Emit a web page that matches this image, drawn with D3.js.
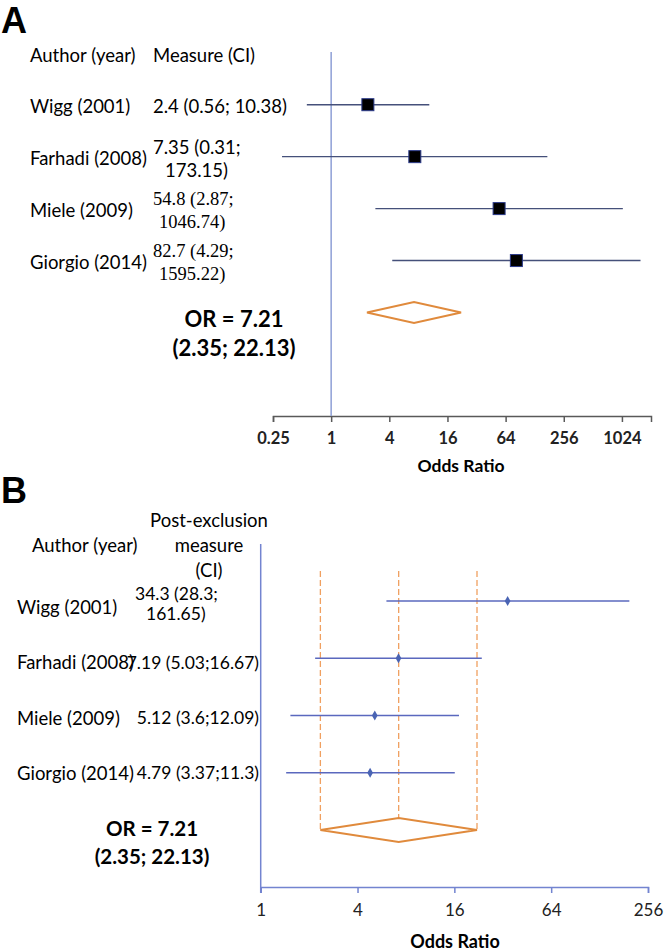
<!DOCTYPE html>
<html><head><meta charset="utf-8">
<script src="https://cdn.jsdelivr.net/npm/d3@7"></script>
<style>body{margin:0;background:#fff}svg{display:block}</style>
</head><body>
<script>
// ---------- DATA ----------
const authors = ["Wigg (2001)", "Farhadi (2008)", "Miele (2009)", "Giorgio (2014)"];
// Panel A
const aOR   = [2.4, 7.35, 54.8, 82.7];
const aLow  = [0.56, 0.31, 2.87, 4.29];
const aHigh = [10.38, 173.15, 1046.74, 1595.22];
const aText = [["2.4 (0.56; 10.38)"], ["7.35 (0.31;", "173.15)"], ["54.8 (2.87;", "1046.74)"], ["82.7 (4.29;", "1595.22)"]];
const aTicks = [0.25, 1, 4, 16, 64, 256, 1024];
// Panel B (whiskers as drawn in the figure)
const bOR   = [34.3, 7.19, 5.12, 4.79];
const bLow  = [6.05, 2.18, 1.53, 1.44];
const bHigh = [196, 23.7, 17.1, 16.1];
const bText = [["34.3 (28.3;", "161.65)"], ["7.19 (5.03;16.67)"], ["5.12 (3.6;12.09)"], ["4.79 (3.37;11.3)"]];
const bTicks = [1, 4, 16, 64, 256];
// Pooled
const pooled = {or: 7.21, low: 2.35, high: 22.13};
const pooledText = ["OR = 7.21", "(2.35; 22.13)"];

// ---------- DRAW ----------
const W = 664, H = 951;
const svg = d3.select("body").append("svg").attr("width", W).attr("height", H);
svg.append("rect").attr("width", W).attr("height", H).attr("fill", "#fff");
const SANS = "Lato, 'Open Sans', sans-serif";
const SERIF = "'Liberation Serif', serif";
const FS = 18.5;

// ===== Panel A =====
const xA = d3.scaleLog().base(4).domain([0.25, 2048]).range([273, 651]);
const yA = d3.scaleLinear().domain([0, 4]).range([104.7, 312.5]);
const gA = svg.append("g");

gA.append("text").text("A").attr("x", 1).attr("y", 33).attr("font-family", "'Liberation Sans', Arial, sans-serif")
  .attr("font-weight", "bold").attr("font-size", 36);

gA.append("text").text("Author (year)").attr("x", 30).attr("y", 55).attr("dominant-baseline", "central")
  .attr("font-family", SANS).attr("font-size", FS);
gA.append("text").text("Measure (CI)").attr("x", 153).attr("y", 55).attr("dominant-baseline", "central")
  .attr("font-family", SANS).attr("font-size", FS);

// x axis
const axA = gA.append("g").attr("transform", "translate(0,416)")
  .call(d3.axisBottom(xA).tickValues(aTicks).tickFormat(d => d).tickSizeOuter(0).tickSize(6));
axA.select(".domain").attr("stroke", "#595959").attr("stroke-width", 1.5);
axA.selectAll(".tick line").attr("stroke", "#595959").attr("stroke-width", 1.5);
axA.selectAll(".tick text").attr("font-family", SANS).attr("font-weight", "bold").attr("font-size", 16.5)
  .attr("fill", "#222").attr("dy", "1.15em");
gA.append("text").text("Odds Ratio").attr("x", 461).attr("y", 465).attr("text-anchor", "middle")
  .attr("dominant-baseline", "central").attr("font-family", SANS).attr("font-weight", "bold").attr("font-size", 17.5);

// reference line at OR = 1
gA.append("line").attr("x1", xA(1)).attr("x2", xA(1)).attr("y1", 52).attr("y2", 416)
  .attr("stroke", "#8e9fd6").attr("stroke-width", 1.5);

authors.forEach((a, i) => {
  const ty = 106 + 52 * i;
  gA.append("text").text(a).attr("x", 30).attr("y", ty).attr("dominant-baseline", "central")
    .attr("font-family", SANS).attr("font-size", FS);
  const lines = aText[i];
  const serif = i >= 2;
  if (lines.length === 1) {
    gA.append("text").text(lines[0]).attr("x", 153).attr("y", ty).attr("dominant-baseline", "central")
      .attr("font-family", SANS).attr("font-size", FS);
  } else {
    lines.forEach((l, k) => {
      gA.append("text").text(l).attr("x", 153).attr("dx", k ? (serif ? 6 : 12) : 0).attr("y", ty - 11 + 23 * k)
        .attr("dominant-baseline", "central").attr("font-family", serif ? SERIF : SANS)
        .attr("font-size", serif ? 18.5 : FS);
    });
  }
  const y = yA(i);
  gA.append("line").attr("x1", xA(aLow[i])).attr("x2", xA(aHigh[i])).attr("y1", y).attr("y2", y)
    .attr("stroke", "#45507a").attr("stroke-width", 1.4);
  gA.append("rect").attr("x", xA(aOR[i]) - 6).attr("y", y - 6).attr("width", 12).attr("height", 12)
    .attr("fill", "#000").attr("stroke", "#2b3a8a").attr("stroke-width", 1);
});

// pooled diamond A
{
  const y = yA(4);
  const pts = [[xA(pooled.low), y], [xA(pooled.or), y - 10.5], [xA(pooled.high), y], [xA(pooled.or), y + 10.5]];
  gA.append("polygon").attr("points", pts.map(p => p.join(",")).join(" "))
    .attr("fill", "none").attr("stroke", "#e08a3c").attr("stroke-width", 2);
  pooledText.forEach((t, k) => {
    gA.append("text").text(t).attr("x", 234).attr("y", 318 + 29 * k).attr("text-anchor", "middle")
      .attr("dominant-baseline", "central").attr("font-family", SANS).attr("font-weight", "bold").attr("font-size", 22);
  });
}

// ===== Panel B =====
const xB = d3.scaleLog().base(4).domain([1, 256]).range([260.7, 648]);
const yB = d3.scaleLinear().domain([0, 4]).range([601, 830]);
const gB = svg.append("g");

gB.append("text").text("B").attr("x", 1).attr("y", 503).attr("font-family", "'Liberation Sans', Arial, sans-serif")
  .attr("font-weight", "bold").attr("font-size", 36);

gB.append("text").text("Author (year)").attr("x", 32).attr("y", 545).attr("dominant-baseline", "central")
  .attr("font-family", SANS).attr("font-size", FS);
["Post-exclusion", "measure", "(CI)"].forEach((t, k) => {
  gB.append("text").text(t).attr("x", 209).attr("y", 520 + 25 * k).attr("text-anchor", "middle")
    .attr("dominant-baseline", "central").attr("font-family", SANS).attr("font-size", FS);
});

// axes
const axB = gB.append("g").attr("transform", "translate(0,887)")
  .call(d3.axisBottom(xB).tickValues(bTicks).tickFormat(d => d).tickSizeOuter(0).tickSize(6));
axB.select(".domain").attr("stroke", "#7384d0").attr("stroke-width", 1.5);
axB.selectAll(".tick line").attr("stroke", "#7384d0").attr("stroke-width", 1.5);
axB.selectAll(".tick text").attr("font-family", SANS).attr("font-size", 17).attr("fill", "#222").attr("dy", "1.2em");
gB.append("line").attr("x1", xB(1)).attr("x2", xB(1)).attr("y1", 544).attr("y2", 893)
  .attr("stroke", "#7384d0").attr("stroke-width", 1.5);
gB.append("text").text("Odds Ratio").attr("x", 455).attr("y", 941).attr("text-anchor", "middle")
  .attr("dominant-baseline", "central").attr("font-family", SANS).attr("font-weight", "bold").attr("font-size", 18);

// dashed pooled reference lines
[pooled.low, pooled.or, pooled.high].forEach(v => {
  gB.append("line").attr("x1", xB(v)).attr("x2", xB(v)).attr("y1", 571)
    .attr("y2", v === pooled.or ? yB(4) - 12 : yB(4))
    .attr("stroke", "#f0a060").attr("stroke-width", 1.3).attr("stroke-dasharray", "6,3");
});

authors.forEach((a, i) => {
  const ty = 607 + 55.3 * i;
  gB.append("text").text(a).attr("x", 17).attr("y", ty).attr("dominant-baseline", "central")
    .attr("font-family", SANS).attr("font-size", FS);
  const lines = bText[i];
  if (lines.length === 2) {
    gB.append("text").text(lines[0]).attr("x", 135).attr("y", ty - 14).attr("dominant-baseline", "central")
      .attr("font-family", SANS).attr("font-size", 17.5);
    gB.append("text").text(lines[1]).attr("x", 146).attr("y", ty + 6).attr("dominant-baseline", "central")
      .attr("font-family", SANS).attr("font-size", 17.5);
  } else {
    gB.append("text").text(lines[0]).attr("x", 259).attr("y", ty).attr("text-anchor", "end")
      .attr("dominant-baseline", "central").attr("font-family", SANS).attr("font-size", 17.5);
  }
  const y = yB(i);
  gB.append("line").attr("x1", xB(bLow[i])).attr("x2", xB(bHigh[i])).attr("y1", y).attr("y2", y)
    .attr("stroke", "#5a68be").attr("stroke-width", 1.5);
  gB.append("path").attr("d", d3.symbol().type(d3.symbolDiamond).size(28)())
    .attr("transform", `translate(${xB(bOR[i])},${y})`).attr("fill", "#4a64b4");
});

// pooled diamond B
{
  const y = yB(4);
  const pts = [[xB(pooled.low), y], [xB(pooled.or), y - 12], [xB(pooled.high), y], [xB(pooled.or), y + 12]];
  gB.append("polygon").attr("points", pts.map(p => p.join(",")).join(" "))
    .attr("fill", "none").attr("stroke", "#e08a3c").attr("stroke-width", 2);
  pooledText.forEach((t, k) => {
    gB.append("text").text(t).attr("x", 152).attr("y", 828 + 28 * k).attr("text-anchor", "middle")
      .attr("dominant-baseline", "central").attr("font-family", SANS).attr("font-weight", "bold").attr("font-size", 20.5);
  });
}
</script>
</body></html>
